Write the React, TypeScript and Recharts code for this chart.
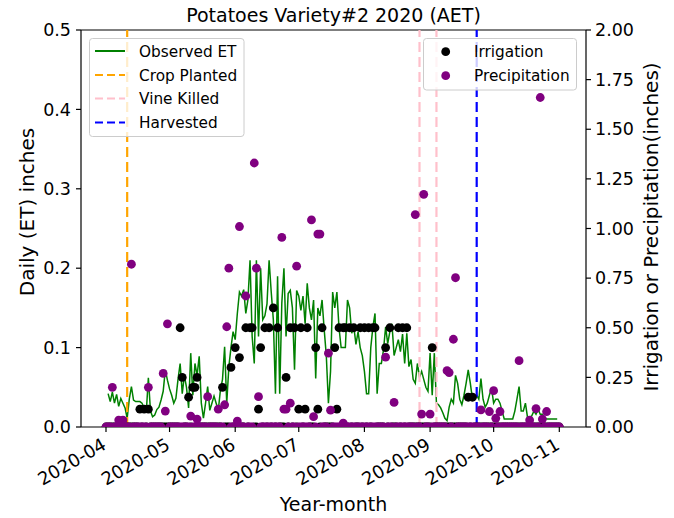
import React from 'react';
import { ComposedChart, Line, Scatter, XAxis, YAxis, ReferenceLine } from 'recharts';

// ---------- data ----------
const etStartDate = '2020-04-02';
const etValues = [
  0.042, 0.032, 0.044, 0.030, 0.041, 0.026, 0.036, 0.030, 0.024, 0.011,
  0.035, 0.051, 0.034, 0.032, 0.032, 0.032, 0.030, 0.024, 0.018, 0.062,
  0.020, 0.013, 0.015, 0.022, 0.025, 0.034, 0.045, 0.072, 0.059, 0.048,
  0.040, 0.030, 0.036, 0.060, 0.080, 0.042, 0.065, 0.050, 0.024, 0.093,
  0.040, 0.080, 0.065, 0.089, 0.030, 0.011, 0.030, 0.051, 0.021, 0.030,
  0.039, 0.030, 0.021, 0.046, 0.060, 0.101, 0.030, 0.076, 0.100, 0.120,
  0.110, 0.143, 0.170, 0.165, 0.173, 0.143, 0.160, 0.210, 0.114, 0.080,
  0.210, 0.114, 0.200, 0.135, 0.140, 0.155, 0.210, 0.170, 0.135, 0.042,
  0.190, 0.042, 0.156, 0.200, 0.114, 0.168, 0.172, 0.150, 0.072, 0.172,
  0.165, 0.147, 0.165, 0.130, 0.181, 0.150, 0.135, 0.160, 0.061, 0.150,
  0.140, 0.160, 0.123, 0.090, 0.030, 0.070, 0.170, 0.150, 0.170, 0.125,
  0.100, 0.100, 0.100, 0.160, 0.150, 0.118, 0.126, 0.104, 0.120, 0.100,
  0.090, 0.070, 0.042, 0.042, 0.100, 0.126, 0.143, 0.042, 0.080, 0.080,
  0.097, 0.126, 0.105, 0.120, 0.130, 0.090, 0.100, 0.110, 0.095, 0.117,
  0.080, 0.118, 0.076, 0.085, 0.060, 0.055, 0.080, 0.063, 0.070, 0.060,
  0.050, 0.045, 0.093, 0.040, 0.093, 0.030, 0.028, 0.024, 0.018, 0.011,
  0.008, 0.025, 0.035, 0.030, 0.065, 0.055, 0.035, 0.028, 0.040, 0.055,
  0.072, 0.055, 0.035, 0.035, 0.040, 0.035, 0.061, 0.035, 0.025, 0.030,
  0.040, 0.049, 0.030, 0.035, 0.035, 0.030, 0.020, 0.010, 0.010, 0.010,
  0.010, 0.010, 0.020, 0.035, 0.051, 0.020, 0.020, 0.030, 0.012, 0.012,
  0.014, 0.020, 0.016, 0.022, 0.016, 0.016, 0.012, 0.010, 0.010, 0.010,
  0.010, 0.010, 0.010,
];

// daily record period for irrigation / precipitation (days without entries are 0)
const recordStart = '2020-04-01';
const recordEnd = '2020-11-01';

const irrigationDates = [
  '2020-04-17', '2020-04-19', '2020-04-21', '2020-05-06', '2020-05-07', '2020-05-10',
  '2020-05-12', '2020-05-13', '2020-05-14', '2020-05-26', '2020-05-30', '2020-06-01',
  '2020-06-03', '2020-06-06', '2020-06-08', '2020-06-09', '2020-06-12', '2020-06-13',
  '2020-06-15', '2020-06-17', '2020-06-19', '2020-06-21', '2020-06-25', '2020-06-27',
  '2020-06-29', '2020-07-01', '2020-07-02', '2020-07-04', '2020-07-05', '2020-07-09',
  '2020-07-10', '2020-07-12', '2020-07-18', '2020-07-19', '2020-07-20', '2020-07-22',
  '2020-07-23', '2020-07-25', '2020-07-27', '2020-07-30', '2020-08-01', '2020-08-03',
  '2020-08-05', '2020-08-06', '2020-08-11', '2020-08-13', '2020-08-17', '2020-08-19',
  '2020-08-21', '2020-09-02', '2020-09-19', '2020-09-21',
];
const irrigationValues = [
  0.09, 0.09, 0.09, 0.5, 0.25, 0.15,
  0.2, 0.2, 0.25, 0.2, 0.3, 0.4,
  0.35, 0.5, 0.5, 0.5, 0.09, 0.4,
  0.5, 0.5, 0.6, 0.5, 0.25, 0.5,
  0.5, 0.09, 0.5, 0.09, 0.5, 0.4,
  0.09, 0.5, 0.4, 0.09, 0.5, 0.5,
  0.5, 0.5, 0.5, 0.5, 0.5, 0.5,
  0.5, 0.5, 0.4, 0.5, 0.5, 0.5,
  0.5, 0.4, 0.15, 0.15,
];

const precipDates = [
  '2020-04-04', '2020-04-07', '2020-04-09', '2020-04-13', '2020-04-21', '2020-04-28',
  '2020-04-29', '2020-04-30', '2020-05-11', '2020-05-14', '2020-05-19', '2020-05-24',
  '2020-05-27', '2020-05-28', '2020-05-29', '2020-06-02', '2020-06-03', '2020-06-06',
  '2020-06-10', '2020-06-11', '2020-06-12', '2020-06-23', '2020-06-24', '2020-06-25',
  '2020-06-27', '2020-06-30', '2020-07-07', '2020-07-08', '2020-07-10', '2020-07-11',
  '2020-07-15', '2020-07-16', '2020-07-22', '2020-08-11', '2020-08-15', '2020-08-25',
  '2020-08-28', '2020-08-29', '2020-09-01', '2020-09-09', '2020-09-10', '2020-09-12',
  '2020-09-13', '2020-09-25', '2020-09-29', '2020-10-01', '2020-10-02', '2020-10-04',
  '2020-10-13', '2020-10-18', '2020-10-21', '2020-10-23', '2020-10-24', '2020-10-26',
];
const precipValues = [
  0.20, 0.035, 0.035, 0.82, 0.20, 0.27,
  0.08, 0.52, 0.055, 0.04, 0.153, 0.09,
  0.112, 0.505, 0.80, 0.03, 1.01, 0.66,
  1.33, 0.80, 0.153, 0.955, 0.09, 0.09,
  0.12, 0.81, 1.043, 0.052, 0.972, 0.972,
  0.372, 0.085, 0.02, 0.352, 0.124, 1.07,
  0.065, 1.172, 0.065, 0.284, 0.274, 0.442,
  0.752, 0.086, 0.078, 0.183, 0.044, 0.078,
  0.334, 0.035, 0.093, 1.66, 0.04, 0.078,
];

const cropPlanted = '2020-04-11';
const vineKilled = ['2020-08-27', '2020-09-04'];
const harvested = '2020-09-23';

const monthTicks = ['2020-04', '2020-05', '2020-06', '2020-07', '2020-08', '2020-09', '2020-10', '2020-11'];
const leftTicks = [0, 0.1, 0.2, 0.3, 0.4, 0.5];
const rightTicks = [0, 0.25, 0.5, 0.75, 1.0, 1.25, 1.5, 1.75, 2.0];

// ---------- helpers ----------
const ORIGIN = Date.UTC(2020, 3, 1);
const dayOf = (s: string) => {
  const [y, m, d] = s.split('-').map(Number);
  return Math.round((Date.UTC(y, m - 1, d || 1) - ORIGIN) / 86400000);
};

const etStart = dayOf(etStartDate);
const etData = etValues.map((v, i) => ({ day: etStart + i, et: v }));

const buildDaily = (dates: string[], values: number[]) => {
  const map = new Map<number, number>();
  dates.forEach((d, i) => map.set(dayOf(d), values[i]));
  const out: { day: number; v: number }[] = [];
  for (let d = dayOf(recordStart); d <= dayOf(recordEnd); d++) {
    out.push({ day: d, v: map.get(d) ?? 0 });
  }
  return out;
};
const irrData = buildDaily(irrigationDates, irrigationValues);
const precData = buildDaily(precipDates, precipValues);

const FONT = 'DejaVu Sans, sans-serif';

const XTick = (props: any) => {
  const { x, y, payload } = props;
  const label = monthTicks.find((m) => dayOf(m) === payload.value) ?? '';
  const ax = x - 5;
  const ay = y;
  return (
    <text
      x={ax}
      y={ay}
      dy="0.73em"
      textAnchor="end"
      fontFamily={FONT}
      fontSize={18}
      fill="#000"
      transform={`rotate(-30 ${ax} ${ay})`}
    >
      {label}
    </text>
  );
};

const dot = (color: string) => (props: any) => (
  <circle cx={props.cx} cy={props.cy} r={4.4} fill={color} stroke="none" />
);

export default function App() {
  return (
    <div style={{ position: 'absolute', left: 0, top: 0, width: 674, height: 518, background: '#fff' }}>
      <ComposedChart
        width={674}
        height={518}
        margin={{ top: 30, right: 0, bottom: 0, left: 0 }}
        style={{ fontFamily: FONT }}
      >
        <XAxis
          type="number"
          dataKey="day"
          domain={[-11.8, 226.6]}
          ticks={monthTicks.map(dayOf)}
          allowDataOverflow
          height={91}
          tickSize={5}
          tickMargin={5}
          tick={<XTick />}
          axisLine={{ stroke: '#000', strokeWidth: 1.2 }}
          tickLine={{ stroke: '#000', strokeWidth: 1.2 }}
          interval={0}
        />
        <YAxis
          yAxisId="left"
          orientation="left"
          width={81}
          domain={[0, 0.5]}
          ticks={leftTicks}
          allowDataOverflow
          tickFormatter={(v: number) => v.toFixed(1)}
          tickSize={5}
          tickMargin={5}
          tick={{ fill: '#000', fontSize: 17.5, fontFamily: FONT }}
          axisLine={{ stroke: '#000', strokeWidth: 1.2 }}
          tickLine={{ stroke: '#000', strokeWidth: 1.2 }}
          interval={0}
        />
        <YAxis
          yAxisId="right"
          orientation="right"
          width={88}
          domain={[0, 2]}
          ticks={rightTicks}
          allowDataOverflow
          tickFormatter={(v: number) => v.toFixed(2)}
          tickSize={5}
          tickMargin={4}
          tick={{ fill: '#000', fontSize: 17.5, fontFamily: FONT, textAnchor: 'start' }}
          axisLine={{ stroke: '#000', strokeWidth: 1.2 }}
          tickLine={{ stroke: '#000', strokeWidth: 1.2 }}
          interval={0}
        />
        <ReferenceLine yAxisId="left" y={0.5} stroke="#000" strokeWidth={1.2} />
        <Line
          yAxisId="left"
          data={etData}
          dataKey="et"
          type="linear"
          stroke="#008000"
          strokeWidth={1.5}
          dot={false}
          isAnimationActive={false}
        />
        <ReferenceLine yAxisId="left" x={dayOf(cropPlanted)} stroke="#FFA500" strokeWidth={2.2} strokeDasharray="10 5" />
        {vineKilled.map((d) => (
          <ReferenceLine key={d} yAxisId="left" x={dayOf(d)} stroke="#FFC0CB" strokeWidth={2.2} strokeDasharray="10 5" />
        ))}
        <ReferenceLine yAxisId="left" x={dayOf(harvested)} stroke="#0000FF" strokeWidth={2.2} strokeDasharray="10 5" />
        <Scatter
          yAxisId="right"
          data={irrData}
          dataKey="v"
          fill="#000"
          shape={dot('#000')}
          isAnimationActive={false}
        />
        <Scatter
          yAxisId="right"
          data={precData}
          dataKey="v"
          fill="#800080"
          shape={dot('#800080')}
          isAnimationActive={false}
        />
      </ComposedChart>
      <svg
        width={674}
        height={518}
        style={{ position: 'absolute', left: 0, top: 0, pointerEvents: 'none' }}
        fontFamily={FONT}
      >
        <text x={333.5} y={22} textAnchor="middle" fontSize={19} fill="#000">
          Potatoes Variety#2 2020 (AET)
        </text>
        <text x={333.5} y={511} textAnchor="middle" fontSize={19} fill="#000">
          Year-month
        </text>
        <text transform="translate(34,212) rotate(-90)" textAnchor="middle" fontSize={20} fill="#000">
          Daily (ET) inches
        </text>
        <text transform="translate(658,227) rotate(-90)" textAnchor="middle" fontSize={20} fill="#000">
          Irrigation or Precipitation(inches)
        </text>

        {/* left legend */}
        <rect x={89.5} y={38.5} width={154.5} height={98} rx={3} fill="#fff" fillOpacity={0.8} stroke="#cccccc" strokeWidth={1} />
        <line x1={95} x2={125} y1={51} y2={51} stroke="#008000" strokeWidth={2} />
        <line x1={95} x2={125} y1={75} y2={75} stroke="#FFA500" strokeWidth={2.2} strokeDasharray="8 4" />
        <line x1={95} x2={125} y1={98.5} y2={98.5} stroke="#FFC0CB" strokeWidth={2.2} strokeDasharray="8 4" />
        <line x1={95} x2={125} y1={122.5} y2={122.5} stroke="#0000FF" strokeWidth={2.2} strokeDasharray="8 4" />
        <text x={139} y={51} dy="0.36em" fontSize={15.3} fill="#000">Observed ET</text>
        <text x={139} y={75} dy="0.36em" fontSize={15.3} fill="#000">Crop Planted</text>
        <text x={139} y={98.5} dy="0.36em" fontSize={15.3} fill="#000">Vine Killed</text>
        <text x={139} y={122.5} dy="0.36em" fontSize={15.3} fill="#000">Harvested</text>

        {/* right legend */}
        <rect x={423.5} y={38.5} width={153} height={51.5} rx={3} fill="#fff" fillOpacity={0.8} stroke="#cccccc" strokeWidth={1} />
        <circle cx={445.7} cy={51.7} r={4.4} fill="#000" />
        <circle cx={445.7} cy={75.7} r={4.4} fill="#800080" />
        <text x={474} y={51.7} dy="0.36em" fontSize={15.3} fill="#000">Irrigation</text>
        <text x={474} y={75.7} dy="0.36em" fontSize={15.3} fill="#000">Precipitation</text>
      </svg>
    </div>
  );
}
